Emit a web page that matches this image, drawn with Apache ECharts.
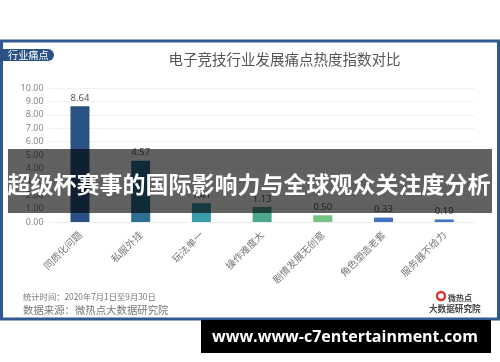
<!DOCTYPE html>
<html><head><meta charset="utf-8">
<style>html,body{margin:0;padding:0;background:#fff}#c{width:500px;height:362px}</style>
<script src="https://cdn.jsdelivr.net/npm/echarts@6/dist/echarts.min.js"></script>
</head><body><div id="c"></div>
<script>
const categories = ['同质化问题','私服外挂','玩法单一','操作难度大','剧情发展无创意','角色塑造老套','服务器不给力'];
const values = [8.64,4.57,1.41,1.13,0.50,0.33,0.19];
const barColors = ['#2b5285','#2f6f92','#3a9bab','#4ba88e','#76c283','#4472c4','#4472c4'];
const chartTitle = '电子竞技行业发展痛点热度指数对比';
const badgeText = '行业痛点';
const bannerText = '超级杯赛事的国际影响力与全球观众关注度分析';
const urlText = 'www.www-c7entertainment.com';
const note1 = '统计时间：2020年7月1日至9月30日';
const note2 = '数据来源：微热点大数据研究院';
const FONT = '"Noto Sans CJK SC","Noto Sans",sans-serif';
const chart = echarts.init(document.getElementById('c'), null, {renderer:'canvas'});
chart.setOption({
  animation:false,
  backgroundColor:'#fff',
  textStyle:{fontFamily:FONT},
  grid:{left:49.6,top:88,width:425,height:134,containLabel:false},
  xAxis:{type:'category',data:categories,
    axisLine:{show:true,lineStyle:{color:'#eeeeee'}},axisTick:{show:false},
    axisLabel:{rotate:45,interval:0,color:'#777',fontSize:9.8,margin:11,fontFamily:FONT}},
  yAxis:{type:'value',min:0,max:10,interval:1,
    axisLine:{show:false},axisTick:{show:false},
    splitLine:{lineStyle:{color:'#f1f1f1'}},
    axisLabel:{color:'#8a8a8a',fontSize:9,margin:6,formatter:v=>v.toFixed(2),fontFamily:'"Noto Sans",sans-serif'}},
  series:[{type:'bar',barWidth:19,
    data:values.map((v,i)=>({value:v,itemStyle:{color:barColors[i]}})),
    label:{show:true,position:'top',distance:3,color:'#555',fontSize:9.5,formatter:p=>p.value.toFixed(2),fontFamily:'"Noto Sans",sans-serif'}}],
  graphic:[
    {type:'rect',z:1,silent:true,shape:{x:1.5,y:41,width:497,height:278},style:{fill:'none',stroke:'#2f5a8f',lineWidth:3}},
    {type:'rect',z:2,shape:{x:0,y:49,width:54,height:12,r:[0,6,6,0]},style:{fill:'#2b5285'}},
    {type:'text',z:3,style:{x:8,y:55,text:badgeText,fill:'#fff',font:'10.2px '+FONT,verticalAlign:'middle'}},
    {type:'text',z:3,style:{x:284.5,y:59,text:chartTitle,fill:'#555',font:'14.5px '+FONT,align:'center',verticalAlign:'middle'}},
    {type:'text',z:3,style:{x:23,y:297,text:note1,fill:'#777',font:'8.3px '+FONT,verticalAlign:'middle'}},
    {type:'text',z:3,style:{x:23,y:310,text:note2,fill:'#777',font:'10.4px '+FONT,verticalAlign:'middle'}},
    {type:'circle',z:3,shape:{cx:441,cy:296,r:4},style:{fill:'none',stroke:'#d9342b',lineWidth:2.4}},
    {type:'text',z:3,style:{x:448,y:298,text:'微热点',fill:'#444',font:'bold 8px '+FONT,verticalAlign:'middle'}},
    {type:'text',z:3,style:{x:429,y:309,text:'大数据研究院',fill:'#444',font:'bold 8.6px '+FONT,verticalAlign:'middle'}},
    {type:'rect',z:50,shape:{x:8,y:149,width:484,height:64},style:{fill:'rgba(0,0,0,0.62)'}},
    {type:'text',z:51,style:{x:249,y:184,text:bannerText,fill:'#fff',font:'bold 23px '+FONT,align:'center',verticalAlign:'middle'}},
    {type:'rect',z:50,shape:{x:201,y:320,width:290,height:33},style:{fill:'#000'}},
    {type:'text',z:51,style:{x:345,y:337,text:urlText,fill:'#fff',font:'bold 16px "Open Sans",sans-serif',align:'center',verticalAlign:'middle'}}
  ]
});
</script></body></html>
